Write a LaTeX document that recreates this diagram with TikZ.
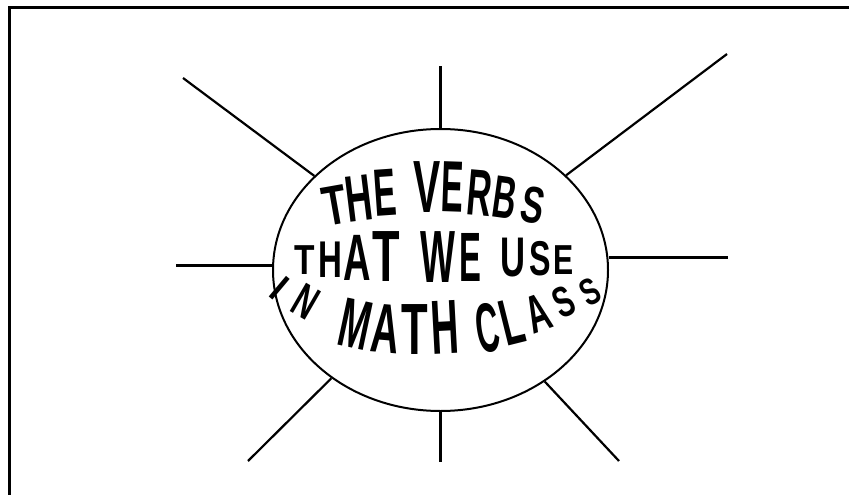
\documentclass[tikz,border=0pt]{standalone}
\usepackage{fontspec}
\setmainfont{Liberation Sans}
\usetikzlibrary{shapes.geometric}
\begin{document}
\begin{tikzpicture}[x=1pt,y=-1pt,
  ray/.style={line width=2.2pt},
  straight/.style={line width=3pt},
  letter/.style={inner sep=0pt, font=\fontsize{10}{12}\selectfont\bfseries}]
\useasboundingbox (0,0) rectangle (849,495);
\draw[line width=3pt] (9.5,505) -- (9.5,7.2) -- (860,7.2);
\node[ellipse, draw, line width=2pt, minimum width=335pt, minimum height=282pt, inner sep=0pt] (E) at (440.5,270) {};
\coordinate (cT) at (440.5,66);
\coordinate (cB) at (440.5,462);
\coordinate (cL) at (176,265);
\coordinate (cR) at (728,257);
\coordinate (cUL) at (183,78);
\coordinate (cUR) at (727,54);
\coordinate (cLL) at (248,461);
\coordinate (cLR) at (619,461);
\draw[straight] (E.north) -- (cT);
\draw[straight] (E.south) -- (cB);
\draw[straight] (E.west |- cL) -- (cL);
\draw[straight] (E.east |- cR) -- (cR);
\draw[ray] (E) -- (cUL);
\draw[ray] (E) -- (cUR);
\draw[ray] (E) -- (cLL);
\draw[ray] (E) -- (cLR);
\foreach \x/\y/\h/\w/\r/\c [count=\i] in {
  335/205/40/0.70/10/T, 359/198/47/0.56/7/H, 385/193/48/0.50/4/E,
  427/187/53/0.55/0/V, 453/187/52/0.46/-2/E, 480/193/47/0.52/-5/R,
  505/198/43/0.54/-8/B, 533/205/37/0.66/-11/S,
  305/260/30/0.80/0/T, 330/260/37/0.64/0/H, 357/258/47/0.58/0/A,
  386/257/52/0.62/0/T, 438/257/53/0.50/0/W, 470/257/50/0.47/0/E,
  513/258/40/0.62/0/U, 540/259/35/0.66/0/S, 564/260/30/0.72/0/E,
  280/288/28/0.85/-40/I, 306/302/34/0.62/-30/N,
  356/324/50/0.53/-12/M, 386/329/50/0.56/-5/A, 415/330/52/0.60/0/T,
  445/327/55/0.50/3/H, 488/328/50/0.46/8/C, 512/322/47/0.56/14/L,
  538/313/38/0.60/20/A, 564/302/31/0.66/25/S, 590/292/27/0.70/28/S}
  \node[letter, rotate=\r, xscale=\w*\h/7.16, yscale=\h/7.16] (L\i) at (\x,\y) {\c};
\end{tikzpicture}
\end{document}
